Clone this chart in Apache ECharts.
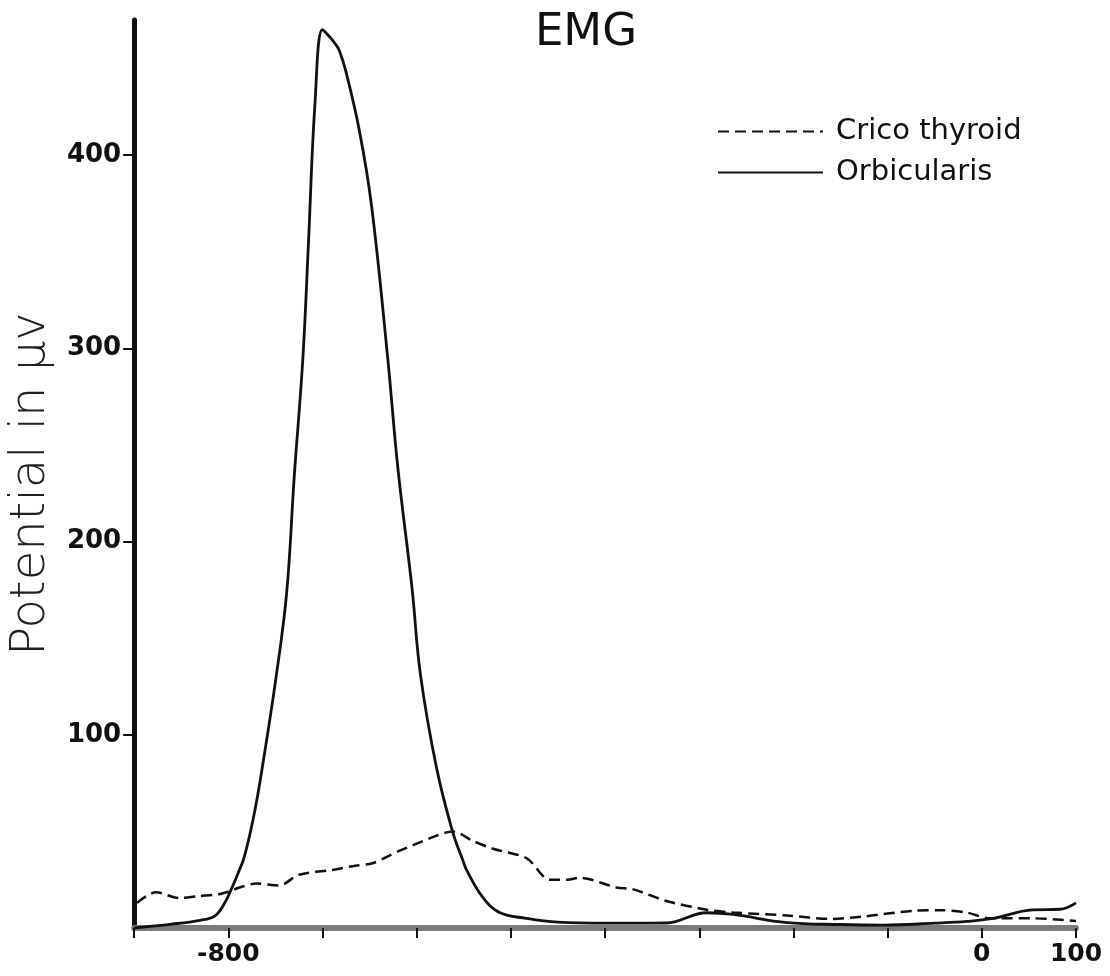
<!DOCTYPE html>
<html><head><meta charset="utf-8">
<script src="https://cdn.jsdelivr.net/npm/echarts@6/dist/echarts.min.js"></script>
<style>html,body{margin:0;padding:0;background:#fff}#c{width:1110px;height:976px}</style>
</head><body><div id="c"></div>
<script>
const titleText = 'EMG';
const seriesNames = ['Crico thyroid', 'Orbicularis'];
const yAxisName = 'Potential in \u03bcv';
const xLabels = [-800, 0, 100];
const yLabels = [100, 200, 300, 400];

const cricoX = [-897,-877,-852,-831,-810,-796,-788,-770,-746,-725,-690,-668,-647,-629,-618,-583,-562,-540,-519,-483,-459,-440,-427,-388,-370,-335,-292,-264,-207,-160,-125,-70,-45,-16,8,20,54,100];
const cricoY = [13,18.5,15.5,16.5,17.5,19.5,21,23,22,27.6,30,32,33.5,37.5,40,47,50,45,41,36,25,25,26,21,20,14,9.5,8,6.5,4.7,6,9,9.2,8,5,5,5,3.6];

const orbX = [-900,-860,-830,-815,-805,-796,-790,-783,-773,-764,-749,-738,-730,-721,-715,-708,-700,-692,-687,-682,-675,-661,-648,-631,-620,-605,-596,-579,-562,-551,-547,-530,-512,-484,-450,-400,-370,-335,-292,-264,-207,-150,-105,-50,-16,12,54,83,100];
const orbY = [0,2,4,6,12,21,28,37,58,83,131,174,234,294,354,427,465,461,458,454,443,413,374,296,238,176,131,83,50,35,30,16,8,5,3,2.5,2.5,2.6,7.9,7,2.8,1.8,1.5,2.5,3.4,5,9.4,9.7,13];

const zip = (xs, ys) => xs.map((x, i) => [x, ys[i]]);

const chart = echarts.init(document.getElementById('c'));
chart.setOption({
  backgroundColor: '#fff',
  animation: false,
  title: {
    text: titleText, left: 581, top: 6, textAlign: 'center',
    textStyle: { fontFamily: 'DejaVu Sans', fontWeight: 'normal', fontSize: 45, color: '#111' }
  },
  legend: {
    orient: 'vertical', left: 712, top: 112, itemWidth: 105, itemHeight: 12, itemGap: 12,
    data: seriesNames,
    itemStyle: { color: 'rgba(0,0,0,0)', borderWidth: 0, opacity: 0 },
    textStyle: { fontFamily: 'DejaVu Sans', fontSize: 29, color: '#111', padding: [0,0,0,8] }
  },
  grid: { left: 133, right: 34, top: 20, bottom: 48 },
  xAxis: {
    type: 'value', min: -900, max: 100, interval: 100,
    splitLine: { show: false },
    axisLine: { onZero: false, lineStyle: { color: '#7a7a7a', width: 6 } },
    axisTick: { show: true, length: 10, inside: false, lineStyle: { color: '#111', width: 2 } },
    axisLabel: {
      showMinLabel: true, showMaxLabel: true, margin: 14,
      fontFamily: 'DejaVu Sans', fontWeight: 'bold', fontSize: 25, color: '#111',
      formatter: v => xLabels.indexOf(v) >= 0 ? String(v) : ''
    }
  },
  yAxis: {
    type: 'value', min: 0, max: 470, interval: 100,
    name: yAxisName, nameLocation: 'middle', nameRotate: 90, nameGap: 32,
    nameTextStyle: { fontFamily: 'DejaVu Sans', fontWeight: 200, fontSize: 48, color: '#222', padding: [0, 20, 0, 0] },
    splitLine: { show: false },
    axisLine: { show: true, onZero: false, lineStyle: { color: '#111', width: 5 } },
    axisTick: { show: true, length: 11, lineStyle: { color: '#111', width: 2 } },
    axisLabel: {
      showMinLabel: false, showMaxLabel: false, margin: 13,
      fontFamily: 'DejaVu Sans', fontWeight: 'bold', fontSize: 26, color: '#111',
      formatter: v => yLabels.indexOf(v) >= 0 ? String(v) : ''
    }
  },
  series: [
    {
      name: seriesNames[0], type: 'line', data: zip(cricoX, cricoY), smooth: 0.3,
      symbol: 'none', itemStyle: { color: '#111' },
      lineStyle: { color: '#111', width: 2.5, type: [11, 6] }, z: 3
    },
    {
      name: seriesNames[1], type: 'line', data: zip(orbX, orbY), smooth: 0.4,
      symbol: 'none', itemStyle: { color: '#111' },
      lineStyle: { color: '#111', width: 2.8, type: 'solid' }, z: 4
    }
  ]
});
</script></body></html>
